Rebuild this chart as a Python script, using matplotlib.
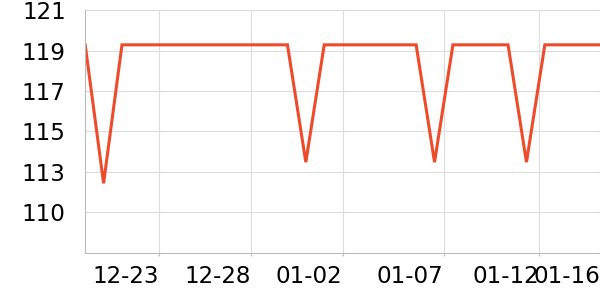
"""Daily value line chart, 12-19 to 01-16."""

import matplotlib
matplotlib.use("Agg")
import matplotlib.pyplot as plt
import pandas as pd

DATES = pd.date_range("2023-12-19", "2024-01-16", freq="D")
VALUES = [
    119.2, 112.0, 119.2, 119.2, 119.2, 119.2, 119.2, 119.2, 119.2, 119.2,
    119.2, 119.2, 113.1, 119.2, 119.2, 119.2, 119.2, 119.2, 119.2, 113.1,
    119.2, 119.2, 119.2, 119.2, 113.1, 119.2, 119.2, 119.2, 119.2,
]
X_TICK_POS = [4, 9, 14, 19.5, 24.7, 28]
X_TICK_LABELS = ["12-23", "12-28", "01-02", "01-07", "01-12", "01-16"]
Y_TICKS = [110.5, 112.6, 114.7, 116.8, 118.9, 121.0]
Y_TICK_LABELS = ["110", "113", "115", "117", "119", "121"]
Y_MIN, Y_MAX = 108.4, 121.0


def main():
    fig = plt.figure(figsize=(6, 3), dpi=100)
    ax = fig.add_axes([0.142, 0.158, 0.858, 0.808])

    x = range(len(DATES))
    ax.plot(x, VALUES, color="#ee4b2b", linewidth=2.2, solid_joinstyle="miter")

    ax.set_xlim(0, len(DATES) - 1)
    ax.set_ylim(Y_MIN, Y_MAX)

    ax.set_xticks(X_TICK_POS)
    ax.set_xticklabels(X_TICK_LABELS, ha="right")
    ax.set_yticks(Y_TICKS)
    ax.set_yticklabels(Y_TICK_LABELS)

    ax.grid(True, color="#dddddd", linewidth=0.8)
    ax.set_axisbelow(True)
    for side in ("top", "right"):
        ax.spines[side].set_visible(False)
    for side in ("left", "bottom"):
        ax.spines[side].set_color("#bbbbbb")
        ax.spines[side].set_linewidth(0.8)

    ax.tick_params(axis="x", length=2, color="#bbbbbb", pad=7, labelsize=16.6)
    ax.tick_params(axis="y", length=0, pad=14, labelsize=16.6)

    fig.savefig("out.png")


if __name__ == "__main__":
    main()
